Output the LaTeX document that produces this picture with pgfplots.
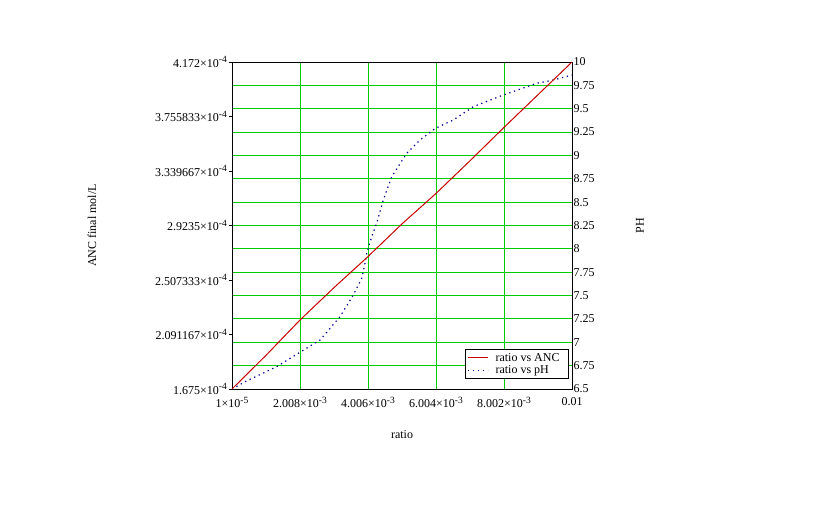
\documentclass[border=0pt]{standalone}
\usepackage{fontspec}
\setmainfont{Liberation Serif}
\usepackage{pgfplots}
\usepackage{pgfplotstable}
\pgfplotsset{compat=1.18}

\definecolor{gridgreen}{RGB}{0,205,0}
\definecolor{ancred}{RGB}{200,0,0}
\definecolor{phblue}{RGB}{0,0,150}

% Mathcad-style exponent
\newcommand{\ex}[1]{\raisebox{4.5pt}{\fontsize{9.5}{10}\selectfont #1}}

% ratio vs ANC (mol/L)
\pgfplotstableread{
ratio     ANC
0.00001   1.675e-4
0.001009  1.9322e-4
0.002008  2.2019e-4
0.003007  2.4491e-4
0.004006  2.6863e-4
0.005005  2.9360e-4
0.006004  3.1682e-4
0.007003  3.4179e-4
0.008002  3.6726e-4
0.009001  3.9223e-4
0.01      4.172e-4
}\ancdata

% ratio vs pH
\pgfplotstableread{
ratio     pH
0.00001   6.500
0.000392  6.578
0.001324  6.739
0.001988  6.889
0.002596  7.024
0.003183  7.274
0.003574  7.506
0.003821  7.685
0.003918  7.845
0.003968  7.952
0.004115  8.130
0.004262  8.275
0.004456  8.523
0.004702  8.772
0.005143  9.023
0.005534  9.165
0.005983  9.290
0.006512  9.379
0.007100  9.522
0.007981  9.647
0.008963  9.772
0.009450  9.807
0.01      9.861
}\phdata

\begin{document}
\begin{tikzpicture}[font=\fontsize{12}{14}\selectfont]
\path[use as bounding box] (-232pt,-136pt) rectangle (608pt,389pt);

\pgfplotsset{
  base/.style={
    scale only axis, width=340pt, height=327pt,
    at={(0,0)}, anchor=south west,
    xmin=0.00001, xmax=0.01,
    xtick={0.00001,0.002008,0.004006,0.006004,0.008002,0.01},
    scaled ticks=false,
    axis line style={black, line width=0.8pt},
  }
}

% right axis: pH, carries the green grid
\begin{axis}[base,
  ymin=6.5, ymax=10,
  ytick={6.5,6.75,...,10},
  yticklabels={6.5,6.75,7,7.25,7.5,7.75,8,8.25,8.5,8.75,9,9.25,9.5,9.75,10},
  ytick pos=right,
  xticklabels={},
  grid=major,
  major grid style={gridgreen, line width=0.9pt},
  tick style={draw=none},
  yticklabel style={anchor=west, inner sep=0pt, xshift=1.5pt},
  ylabel={PH},
  ylabel style={at={(axis description cs:1.2,0.5)}, anchor=center},
]
\addplot[draw=phblue, line width=1.2pt, dash pattern=on 1.3pt off 3.7pt] table[x=ratio, y=pH] {\phdata};
\end{axis}

% left axis: ANC
\begin{axis}[base,
  ymin=1.675e-4, ymax=4.172e-4,
  ytick={1.675e-4,2.091167e-4,2.507333e-4,2.9235e-4,3.339667e-4,3.755833e-4,4.172e-4},
  yticklabels={1.675×10\ex{-4},2.091167×10\ex{-4},2.507333×10\ex{-4},2.9235×10\ex{-4},3.339667×10\ex{-4},3.755833×10\ex{-4},4.172×10\ex{-4}},
  xticklabels={1×10\ex{-5},2.008×10\ex{-3},4.006×10\ex{-3},6.004×10\ex{-3},8.002×10\ex{-3},0.01},
  ytick pos=left, xtick pos=bottom,
  tick align=outside, major tick length=3pt,
  xtick style={draw=none},
  ytick style={black, line width=0.8pt},
  yticklabel style={anchor=east, inner sep=0pt, xshift=-2pt},
  xticklabel style={anchor=north, inner sep=0pt, yshift=-5pt},
  xlabel={ratio},
  xlabel style={at={(axis description cs:0.5,-0.1407)}, anchor=center},
  ylabel={ANC final mol/L},
  ylabel style={at={(axis description cs:-0.4118,0.5)}, anchor=center},
  legend style={at={(rel axis cs:0.991,0.031)}, anchor=south east,
    draw=black, line width=0.8pt, fill=white, inner sep=1.5pt, row sep=-1pt,
    font=\fontsize{12}{13}\selectfont},
  legend cell align=left,
  legend image code/.code={\draw[#1] (0pt,0pt) -- (20pt,0pt); \path (25pt,0pt);},
]
\addplot[draw=ancred, line width=1pt] table[x=ratio, y=ANC] {\ancdata};
\addlegendentry{ratio vs ANC\rule{5.5pt}{0pt}}
\addlegendimage{draw=phblue, line width=1.2pt, dash pattern=on 1.3pt off 3.7pt}
\addlegendentry{ratio vs pH}
\end{axis}
\end{tikzpicture}
\end{document}
